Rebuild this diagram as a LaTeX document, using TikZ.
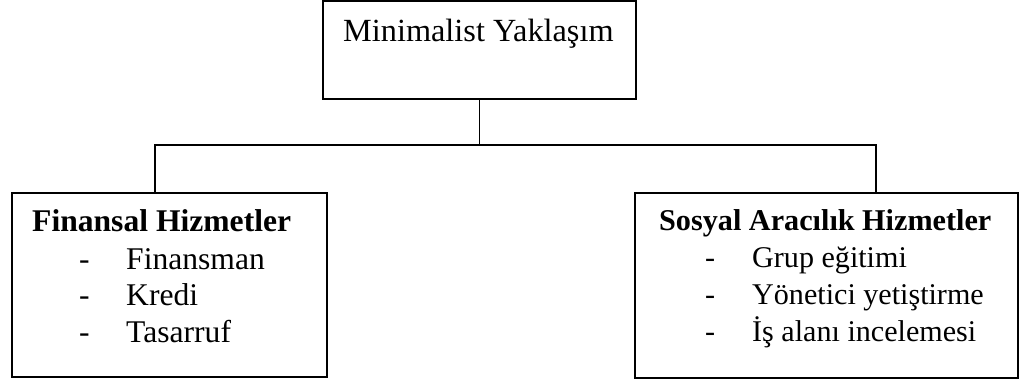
\documentclass[tikz,border=0pt]{standalone}
\usepackage{fontspec}
\setmainfont{Liberation Serif}
\begin{document}
\begin{tikzpicture}[x=1pt,y=-1pt,
  box/.style={draw=black,line width=1.7pt,rectangle,inner sep=0pt,fill=none},
  conn/.style={draw=black,line width=1.7pt},
  txt/.style={anchor=base west,inner sep=0pt,font=\fontsize{31.6}{36}\selectfont},
  txtr/.style={anchor=base west,inner sep=0pt,font=\fontsize{30.1}{36}\selectfont},
  head/.style={txt,font=\fontsize{31.6}{36}\selectfont\bfseries},
  headr/.style={txt,font=\fontsize{30.2}{36}\selectfont\bfseries}]
\useasboundingbox[fill=white] (0,0) rectangle (1026,387);
% boxes
\node[box,minimum width=313pt,minimum height=98pt] (top) at (479.5,50) {};
\node[box,minimum width=315pt,minimum height=184pt] (left) at (169.5,285) {};
\node[box,minimum width=383pt,minimum height=185pt] (right) at (826.5,285.5) {};
% connectors
\coordinate (busL) at (155,145);
\coordinate (busR) at (876,145);
\coordinate (busM) at (top.south |- busL);
\draw[conn] (top.south) -- (busM);
\draw[conn,line cap=rect] (busL) -- (busR);
\draw[conn] (busL) -- (busL |- left.north);
\draw[conn] (busR) -- (busR |- right.north);
% texts
\node[txt,font=\fontsize{32.3}{36}\selectfont] (t0) at (343,42) {Minimalist Yaklaşım};
\node[head] (h1) at (32,232) {Finansal Hizmetler};
\node[txt] (d11) at (79,270) {-};
\node[txt] (i11) at (126,270) {Finansman};
\node[txt] (d12) at (79,306) {-};
\node[txt] (i12) at (126,306) {Kredi};
\node[txt] (d13) at (79,343) {-};
\node[txt] (i13) at (126,343) {Tasarruf};
\node[headr] (h2) at (659,231) {Sosyal Aracılık Hizmetler};
\node[txtr] (d21) at (705,268) {-};
\node[txtr] (i21) at (752,268) {Grup eğitimi};
\node[txtr] (d22) at (705,305) {-};
\node[txtr] (i22) at (752,305) {Yönetici yetiştirme};
\node[txtr] (d23) at (705,342) {-};
\node[txtr] (i23) at (752,342) {İş alanı incelemesi};
\end{tikzpicture}
\end{document}
